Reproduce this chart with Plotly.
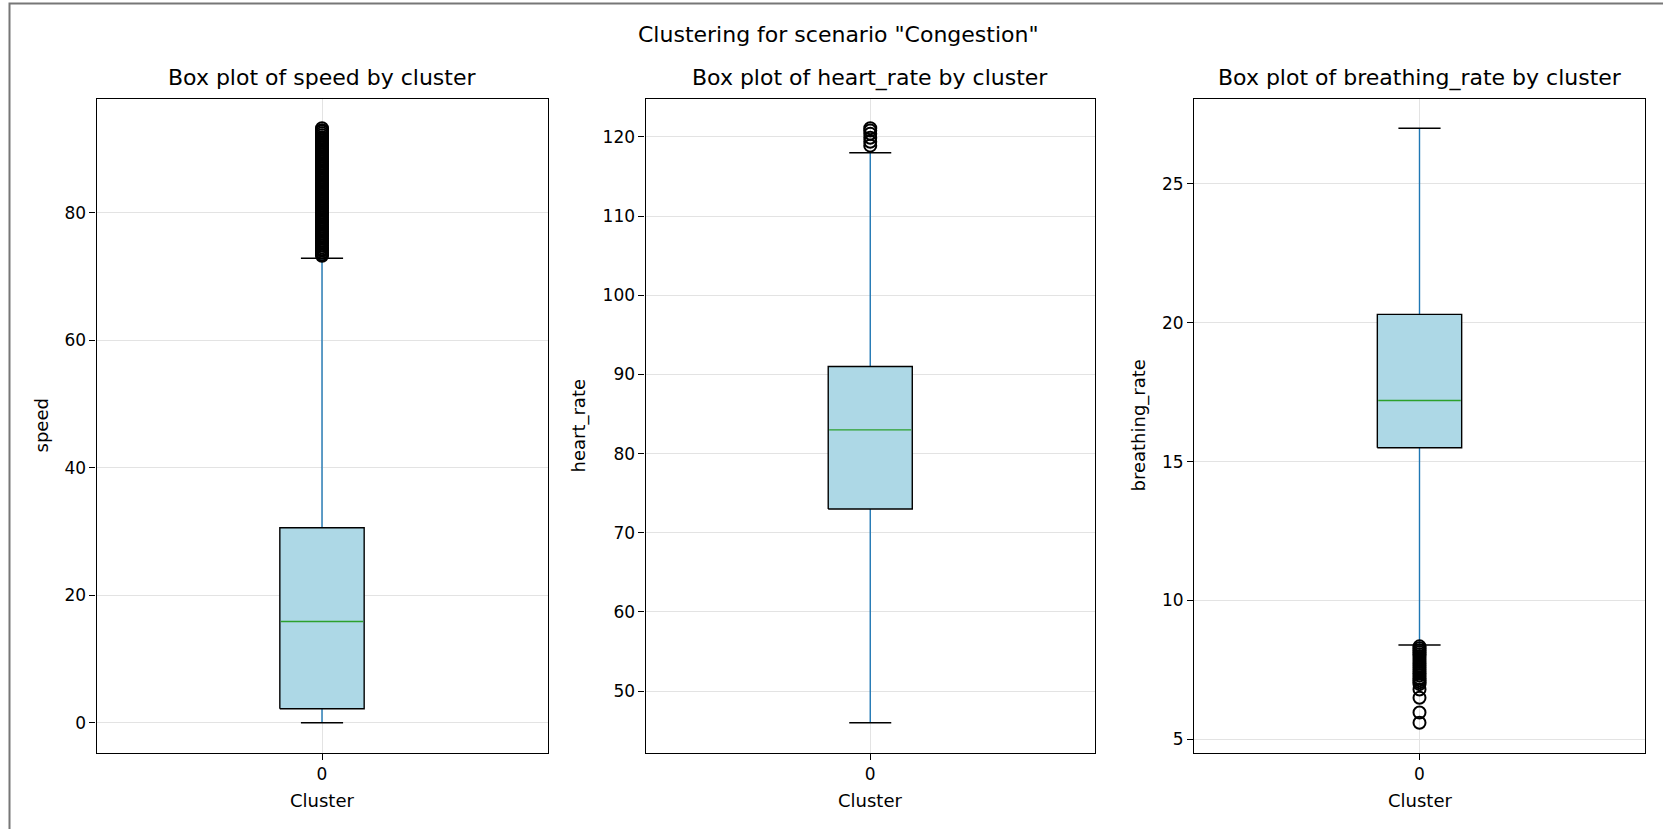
import plotly.graph_objects as go

# ---------------- data ----------------
CLUSTERS = ["0"]
PANEL_VARS = ["speed", "heart_rate", "breathing_rate"]
PANEL_TITLES = ["Box plot of speed by cluster",
                "Box plot of heart_rate by cluster",
                "Box plot of breathing_rate by cluster"]
SUPTITLE = 'Clustering for scenario "Congestion"'
X_LABEL = "Cluster"

# box statistics: [lower whisker, q1, median, q3, upper whisker]
SPEED_BOX = [0.0, 2.2, 15.9, 30.6, 72.9]
HEART_BOX = [46.0, 73.0, 83.0, 91.0, 118.0]
BREATH_BOX = [8.4, 15.5, 17.2, 20.3, 27.0]

SPEED_OUTLIERS = [73.3, 73.5, 73.8, 74.1, 74.3, 74.6, 74.9, 75.2, 75.4, 75.7,
                  76.0, 76.3, 76.5, 76.8, 77.1, 77.4, 77.6, 77.9, 78.2, 78.5,
                  78.7, 79.0, 79.3, 79.6, 79.8, 80.1, 80.4, 80.7, 80.9, 81.2,
                  81.5, 81.8, 82.0, 82.3, 82.6, 82.9, 83.1, 83.4, 83.7, 84.0,
                  84.2, 84.5, 84.8, 85.1, 85.3, 85.6, 85.9, 86.2, 86.4, 86.7,
                  87.0, 87.3, 87.5, 87.8, 88.1, 88.4, 88.6, 88.9, 89.2, 89.5,
                  89.7, 90.0, 90.3, 90.6, 90.8, 91.1, 91.4, 91.7, 91.9, 92.2,
                  92.5, 92.8, 93.0, 93.3]
HEART_OUTLIERS = [118.9, 119.4, 119.9, 120.4, 120.8, 121.1]
BREATH_OUTLIERS = [8.35, 8.28, 8.21, 8.14, 8.07, 8.0, 7.93, 7.86, 7.79, 7.72,
                   7.65, 7.58, 7.51, 7.44, 7.37, 7.3, 7.2, 7.13, 7.06, 6.99,
                   6.8, 6.5, 5.97, 5.6]

Y_DTICKS = [20, 10, 5]

BOXES = [SPEED_BOX, HEART_BOX, BREATH_BOX]
OUTLIERS = [SPEED_OUTLIERS, HEART_OUTLIERS, BREATH_OUTLIERS]

# ---------------- style / layout ----------------
W, H = 1663, 829
FONT = "DejaVu Sans"
BOXW = 0.187          # box width in x-data units
CAPW = BOXW / 2       # cap width
X_DOMAINS = [(96.5, 547.5), (645.5, 1095.0), (1194.0, 1645.0)]
Y_TOP, Y_BOT = 98.5, 752.5
YLABEL_X = [41, 579, 1139]
LW = 1.4

fig = go.Figure()

for i in range(3):
    n = "" if i == 0 else str(i + 1)
    xa, ya = "x" + n, "y" + n
    lo, q1, med, q3, hi = BOXES[i]
    pos = 0
    bl, br = pos - BOXW / 2, pos + BOXW / 2
    cl, cr = pos - CAPW / 2, pos + CAPW / 2

    # blue whiskers
    fig.add_trace(go.Scatter(
        x=[pos, pos, None, pos, pos], y=[lo, q1, None, q3, hi], mode="lines",
        line=dict(color="#1f77b4", width=LW), xaxis=xa, yaxis=ya,
        showlegend=False, hoverinfo="skip"))
    # black caps
    fig.add_trace(go.Scatter(
        x=[cl, cr, None, cl, cr], y=[lo, lo, None, hi, hi], mode="lines",
        line=dict(color="black", width=LW), xaxis=xa, yaxis=ya,
        showlegend=False, hoverinfo="skip"))
    # box (light blue with black edge)
    fig.add_trace(go.Scatter(
        x=[bl, br, br, bl, bl], y=[q1, q1, q3, q3, q1], mode="lines",
        fill="toself", fillcolor="#add8e6",
        line=dict(color="black", width=LW), xaxis=xa, yaxis=ya,
        showlegend=False, hoverinfo="skip"))
    # green median
    fig.add_trace(go.Scatter(
        x=[bl + 0.002, br - 0.002], y=[med, med], mode="lines",
        line=dict(color="#2ca02c", width=LW), xaxis=xa, yaxis=ya,
        showlegend=False, hoverinfo="skip"))
    # fliers
    fig.add_trace(go.Scatter(
        x=[pos] * len(OUTLIERS[i]), y=OUTLIERS[i], mode="markers",
        marker=dict(symbol="circle-open", size=12, color="black", line=dict(width=2)),
        xaxis=xa, yaxis=ya, showlegend=False, hoverinfo="skip"))

    allv = BOXES[i] + OUTLIERS[i]
    vmin, vmax = min(allv), max(allv)
    pad = 0.05 * (vmax - vmin)

    axis_common = dict(showline=True, mirror=True, linecolor="black", linewidth=1.1,
                       ticks="outside", ticklen=6, tickwidth=1.1, tickcolor="black",
                       showgrid=True, gridcolor="#e3e3e3", gridwidth=1, zeroline=False,
                       tickfont=dict(family=FONT, size=17, color="black"))
    x0, x1 = X_DOMAINS[i]
    fig.layout["xaxis" + n] = dict(domain=[x0 / W, x1 / W], range=[-0.5, 0.5],
                                   tickvals=[pos], ticktext=CLUSTERS, anchor=ya,
                                   **axis_common)
    fig.layout["yaxis" + n] = dict(domain=[1 - Y_BOT / H, 1 - Y_TOP / H],
                                   range=[vmin - pad, vmax + pad], dtick=Y_DTICKS[i],
                                   tick0=0, anchor=xa, **axis_common)

    fig.add_annotation(text=PANEL_TITLES[i], x=(x0 + x1) / 2 / W, y=1 - 78 / H,
                       xref="paper", yref="paper", xanchor="center", yanchor="middle",
                       showarrow=False, font=dict(family=FONT, size=22, color="black"))
    fig.add_annotation(text=X_LABEL, x=(x0 + x1) / 2 / W, y=1 - 800 / H,
                       xref="paper", yref="paper", xanchor="center", yanchor="middle",
                       showarrow=False, font=dict(family=FONT, size=18, color="black"))
    fig.add_annotation(text=PANEL_VARS[i], x=YLABEL_X[i] / W, y=1 - (Y_TOP + Y_BOT) / 2 / H,
                       xref="paper", yref="paper", xanchor="center", yanchor="middle",
                       textangle=-90, showarrow=False,
                       font=dict(family=FONT, size=18, color="black"))

fig.add_annotation(text=SUPTITLE, x=838 / W, y=1 - 34 / H, xref="paper", yref="paper",
                   xanchor="center", yanchor="middle", showarrow=False,
                   font=dict(family=FONT, size=22, color="black"))

fig.add_shape(type="rect", xref="paper", yref="paper",
              x0=9.5 / W, x1=1.02, y0=-0.02, y1=1 - 3.5 / H,
              line=dict(color="#777777", width=2), fillcolor="rgba(0,0,0,0)")

fig.update_layout(width=W, height=H, margin=dict(l=0, r=0, t=0, b=0),
                  paper_bgcolor="white", plot_bgcolor="white",
                  font=dict(family=FONT, color="black"), showlegend=False)

fig.write_html("out.html")
